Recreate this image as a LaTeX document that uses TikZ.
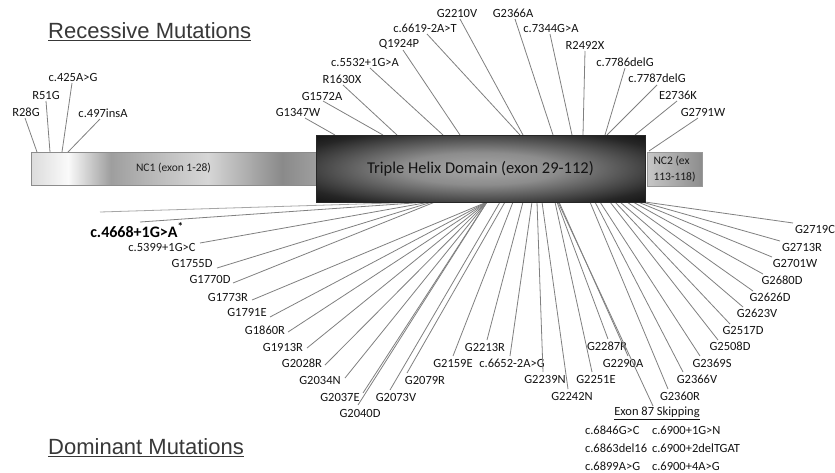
\documentclass[tikz,border=0pt]{standalone}
\usepackage{fontspec}
\setmainfont{Carlito}
\newfontfamily\ttlfont{Liberation Sans}
\pgfdeclarehorizontalshading{ncone}{100bp}{color(0bp)=(black!14); color(25bp)=(black!14); color(31.5bp)=(black!2); color(39bp)=(black!38); color(49bp)=(black!24); color(56bp)=(black!16); color(69bp)=(black!46); color(75bp)=(black!38); color(100bp)=(black!38)}
\pgfdeclareradialshading{thdshade}{\pgfpoint{0bp}{0bp}}{color(0bp)=(black!34); color(12bp)=(black!45); color(30bp)=(black!85); color(42bp)=(black); color(50bp)=(black)}
\begin{document}
\begin{tikzpicture}[x=1pt,y=-1pt,
  lab/.style={font=\fontsize{12.5}{14}\selectfont, text=black!92, inner sep=0pt, outer sep=0pt},
  ln/.style={draw=black!50, line width=0.8pt},
  ttl/.style={font=\ttlfont\fontsize{22}{24}\selectfont, text=black!78, anchor=west, inner sep=0pt}]
\useasboundingbox[fill=white] (0,0) rectangle (835,472);

% titles
\node[ttl] (rec) at (48,32) {\underline{Recessive Mutations}};
\node[ttl] (dom) at (48,448) {\underline{Dominant Mutations}};

% top labels (triple helix and NC2)
\foreach \n/\px/\py/\t/\dx/\dy/\ex/\ey in {
  t1/298/112/G1347W/7/6/335/135,
  t2/322/96/G1572A/1/5/383/135,
  t3/342/79/R1630X/1/6/397/135,
  t4/365/62/c.5532+1G>A/5/6/443/135,
  t5/399/44/Q1924P/4/6/460/135,
  t6/425/28/c.6619-2A>T/2/6/520/135,
  t7/457/13/G2210V/3/6/523/135,
  t8/513/13/G2366A/2/6/553/135,
  t9/551/28/c.7344G>A/-1/6/572/135,
  t10/585/45/R2492X/0/6/583/135,
  t11/625/62/c.7786delG/0/6/605/135,
  t12/657/78/c.7787delG/0/7/607/135,
  t13/678/95/E2736K/-1/6/635/135,
  t14/703/112/G2791W/-5/6/649/151,
  n1/26/112/R28G/-1/6/37/152,
  n2/46/95/R51G/0/6/50/152,
  n3/73/77/c.425A>G/-1/6/62/152,
  n4/103/113/c.497insA/-3/6/68/152}{
  \node[lab] (\n) at (\px,\py) {\t};
  \coordinate (e\n) at (\ex,\ey);
  \draw[ln] ([shift={(\dx,\dy)}]\n.center) -- (e\n);
}

% bottom labels
\node[lab, font=\bfseries\fontsize{16}{18}\selectfont, text=black] (b1) at (137,230) {c.4668+1G>A\textsuperscript{*}};
\coordinate (eb1) at (428,202);
\draw[ln] ([shift={(3,-8)}]b1.center) -- (eb1);
\coordinate (g0) at (100,212);
\coordinate (eg0) at (425,202);
\draw[ln, draw=black!35] (g0) -- (eg0);

\foreach \n/\px/\py/\t/\dx/\dy/\ex in {
  b2/162/247/c.5399+1G>C/38/-4/430,
  b3/192/263/G1755D/25/5/432,
  b4/210/279/G1770D/23/4/435,
  b5/228/297/G1773R/24/3/487,
  b6/247/312/G1791E/23/5/487,
  b7/265/330/G1860R/23/2/487,
  b8/283/347/G1913R/24/1/487,
  b9/302/363/G2028R/23/2/487,
  b10/320/380/G2034N/25/-2/487,
  b11/340/397/G2037E/23/-4/487,
  b12/360/413/G2040D/-2/-8/487,
  b13/396/397/G2073V/-6/-7/500,
  b14/425/380/G2079R/-18/-7/505,
  b15/453/363/G2159E/0/-7/513,
  b16/485/347/G2213R/2/-7/523,
  b17/512/363/c.6652-2A>G/-2/-7/532,
  b18/545/379/G2239N/-2/-7/537,
  b19/572/396/G2242N/-4/-7/542,
  b20/596/379/G2251E/-4/-7/555,
  b21/607/346/G2287R/1/-7/557,
  b22/623/363/G2290A/5/-7/559,
  b24/680/396/G2360R/-12/-7/590,
  b25/697/379/G2366V/-14/-7/595,
  b26/712/363/G2369S/-12/-7/600,
  b27/730/346/G2508D/-12/-6/610,
  b28/743/330/G2517D/-13/-6/615,
  b29/757/313/G2623V/-14/-6/620,
  b30/770/297/G2626D/-17/-6/627,
  b31/782/280/G2680D/-19/-6/633,
  b32/795/263/G2701W/-23/-6/638,
  b33/802/247/G2713R/-22/-6/642,
  b34/815/229/G2719C/-22/-6/645}{
  \node[lab] (\n) at (\px,\py) {\t};
  \coordinate (e\n) at (\ex,202);
  \draw[ln] ([shift={(\dx,\dy)}]\n.center) -- (e\n);
}

% exon 87 skipping
\node[lab] (ex87) at (657,413) {\underline{Exon 87 Skipping}};
\coordinate (eex87) at (558,202);
\draw[ln] ([shift={(-4,-7)}]ex87.center) -- (eex87);
\node[lab, anchor=west] (s1) at (585,430) {c.6846G>C};
\node[lab, anchor=west] (s2) at (652,430) {c.6900+1G>N};
\node[lab, anchor=west] (s3) at (585,448) {c.6863del16};
\node[lab, anchor=west] (s4) at (652,448) {c.6900+2delTGAT};
\node[lab, anchor=west] (s5) at (585,466) {c.6899A>G};
\node[lab, anchor=west] (s6) at (652,466) {c.6900+4A>G};

% domains
\node[draw=black!45, line width=0.6pt, shading=ncone, minimum width=285pt, minimum height=33pt, inner sep=0pt,
  font=\fontsize{11.5}{13}\selectfont, text=black!88] (nc1) at (173.5,168.5) {NC1 (exon 1-28)};
\node[draw=black!85, line width=0.6pt, shading=thdshade, minimum width=329pt, minimum height=67pt, inner sep=0pt,
  font=\fontsize{16.5}{18}\selectfont, text=black!92] (thd) at (480.5,168.5) {Triple Helix Domain (exon 29-112)};
\node[draw=black!40, line width=0.6pt, left color=black!22, right color=black!45, minimum width=55pt, minimum height=34pt,
  inner sep=0pt, align=left, font=\fontsize{11.5}{16}\selectfont, text=black!90] (nc2) at (674.5,169) {NC2 (ex\\113-118)};
\end{tikzpicture}
\end{document}
